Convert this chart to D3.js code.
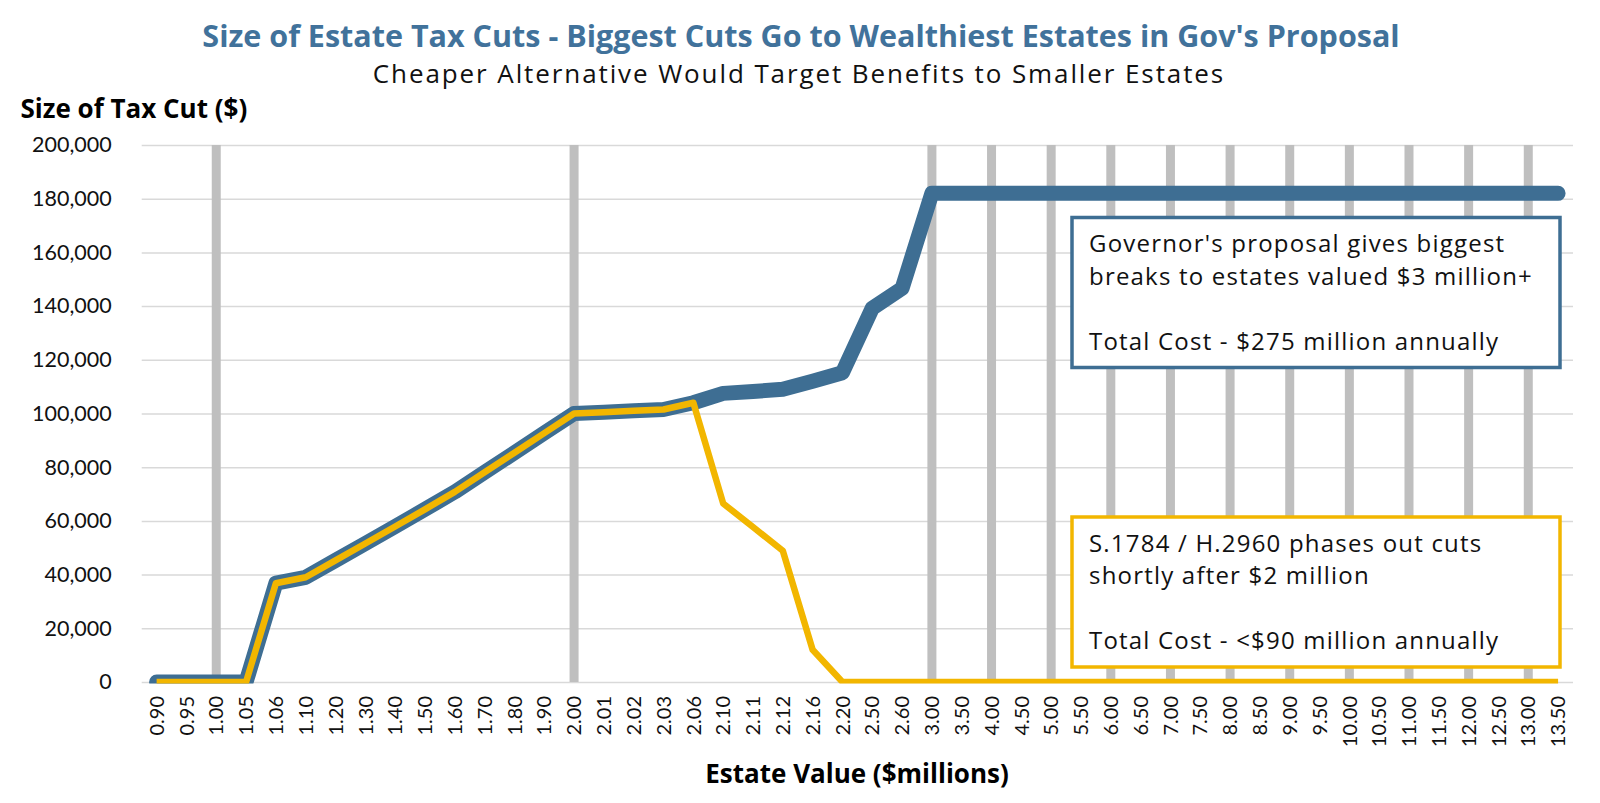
<!DOCTYPE html>
<html>
<head>
<meta charset="utf-8">
<script src="https://cdn.jsdelivr.net/npm/d3@7"></script>
<style>
  body { margin: 0; background: #fff; }
  svg { display: block; }
</style>
</head>
<body>
<div id="canvas"></div>
<script>
// estate values ($ millions) along the x axis
var estateValues = ['0.90', '0.95', '1.00', '1.05', '1.06', '1.10', '1.20', '1.30', '1.40', '1.50',
    '1.60', '1.70', '1.80', '1.90', '2.00', '2.01', '2.02', '2.03', '2.06', '2.10',
    '2.11', '2.12', '2.16', '2.20', '2.50', '2.60', '3.00', '3.50', '4.00', '4.50',
    '5.00', '5.50', '6.00', '6.50', '7.00', '7.50', '8.00', '8.50', '9.00', '9.50',
    '10.00', '10.50', '11.00', '11.50', '12.00', '12.50', '13.00', '13.50'];

// Governor's proposal - size of tax cut ($)
var govCut = [0, 0, 0, 0, 36800, 39000, 45300, 51600, 57900, 64300,
    70800, 78100, 85400, 92700, 100000, 100500, 101000, 101500, 104000, 107500,
    108200, 109000, 112000, 115200, 139200, 146600, 182000, 182000, 182000, 182000,
    182000, 182000, 182000, 182000, 182000, 182000, 182000, 182000, 182000, 182000,
    182000, 182000, 182000, 182000, 182000, 182000, 182000, 182000];

// S.1784 / H.2960 - size of tax cut ($)
var altCut = [0, 0, 0, 0, 36800, 39000, 45300, 51600, 57900, 64300,
    70800, 78100, 85400, 92700, 100000, 100500, 101000, 101500, 104000, 66500,
    57700, 48900, 12000, 0, 0, 0, 0, 0, 0, 0,
    0, 0, 0, 0, 0, 0, 0, 0, 0, 0,
    0, 0, 0, 0, 0, 0, 0, 0];

// grey marker columns at each whole million
var millionMarks = ['1.00', '2.00', '3.00', '4.00', '5.00', '6.00', '7.00',
    '8.00', '9.00', '10.00', '11.00', '12.00', '13.00'];
var markHeight = 200000;

var yTicks = [0, 20000, 40000, 60000, 80000, 100000, 120000, 140000, 160000, 180000, 200000];

var govNote = ["Governor's proposal gives biggest", 'breaks to estates valued $3 million+', '', 'Total Cost - $275 million annually'];
var altNote = ['S.1784 / H.2960 phases out cuts', 'shortly after $2 million', '', 'Total Cost - <$90 million annually'];

var W = 1600, H = 803;
var plotL = 141.7, plotR = 1573, plotT = 145, plotB = 682;
var BLUE = '#3e6e93', YELLOW = '#f2b600', GREY = '#bfbfbf', GRID = '#d9d9d9';
var calib = 'Lato, "Open Sans", sans-serif';
var wide = '"Open Sans", Lato, sans-serif';

var svg = d3.select('#canvas').append('svg')
    .attr('width', W)
    .attr('height', H);

var x = d3.scaleBand().domain(estateValues).range([plotL, plotR]).padding(0);
var y = d3.scaleLinear().domain([0, 200000]).range([plotB, plotT]);
var cx = function (d) { return x(d) + x.bandwidth() / 2; };

// titles
svg.append('text')
    .attr('x', 801).attr('y', 46.5)
    .attr('text-anchor', 'middle')
    .style('font-family', wide).style('font-weight', 700).style('font-size', '30.5px')
    .style('fill', '#41729b')
    .text("Size of Estate Tax Cuts - Biggest Cuts Go to Wealthiest Estates in Gov's Proposal");

svg.append('text')
    .attr('x', 799).attr('y', 83)
    .attr('text-anchor', 'middle')
    .style('font-family', wide).style('font-size', '26px').style('letter-spacing', '1.9px')
    .style('fill', '#111')
    .text('Cheaper Alternative Would Target Benefits to Smaller Estates');

svg.append('text')
    .attr('x', 20.5).attr('y', 118)
    .style('font-family', wide).style('font-weight', 700).style('font-size', '26px')
    .text('Size of Tax Cut ($)');

// gridlines + y labels
var yAxis = svg.append('g')
    .attr('transform', 'translate(' + plotL + ',0)')
    .call(d3.axisLeft(y).tickValues(yTicks).tickSize(-(plotR - plotL)).tickPadding(30)
        .tickFormat(d3.format(',')));
yAxis.select('.domain').remove();
yAxis.selectAll('line').attr('stroke', GRID).attr('stroke-width', 1.5);
yAxis.selectAll('text')
    .style('font-family', calib).style('font-size', '21.5px').style('fill', '#111');

// x labels, rotated
var xAxis = svg.append('g')
    .attr('transform', 'translate(0,' + plotB + ')')
    .call(d3.axisBottom(x).tickSize(0).tickPadding(0));
xAxis.select('.domain').remove();
xAxis.selectAll('text')
    .attr('transform', 'translate(0,14) rotate(-90)')
    .attr('x', 0).attr('y', 0).attr('dy', '0.36em')
    .attr('text-anchor', 'end')
    .style('font-family', calib).style('font-size', '20px').style('fill', '#111');

svg.append('text')
    .attr('x', 857).attr('y', 783)
    .attr('text-anchor', 'middle')
    .style('font-family', wide).style('font-weight', 700).style('font-size', '26px')
    .text('Estate Value ($millions)');

// grey columns
var barW = 9;
svg.append('g').selectAll('rect')
    .data(millionMarks)
    .enter().append('rect')
    .attr('x', function (d) { return cx(d) - barW / 2; })
    .attr('y', y(markHeight))
    .attr('width', barW)
    .attr('height', y(0) - y(markHeight))
    .attr('fill', GREY);

// lines get clipped at the floor of the plot
svg.append('defs').append('clipPath').attr('id', 'plotClip')
    .append('rect').attr('x', 0).attr('y', 0).attr('width', W).attr('height', plotB + 1.5);

var line = d3.line()
    .x(function (d, i) { return cx(estateValues[i]); })
    .y(function (d) { return y(d); });

var lines = svg.append('g').attr('clip-path', 'url(#plotClip)');
lines.append('path')
    .attr('d', line(govCut))
    .attr('fill', 'none')
    .attr('stroke', BLUE)
    .attr('stroke-width', 15)
    .attr('stroke-linejoin', 'round')
    .attr('stroke-linecap', 'round');
lines.append('path')
    .attr('d', line(altCut))
    .attr('fill', 'none')
    .attr('stroke', YELLOW)
    .attr('stroke-width', 6.5)
    .attr('stroke-linejoin', 'round')
    .attr('stroke-linecap', 'butt');

// annotation boxes
function noteBox(boxTop, rows, color) {
    var g = svg.append('g');
    g.append('rect')
        .attr('x', 1072).attr('y', boxTop)
        .attr('width', 488).attr('height', 150)
        .attr('fill', '#fff')
        .attr('stroke', color)
        .attr('stroke-width', 3.5);
    g.selectAll('text')
        .data(rows)
        .enter().append('text')
        .attr('x', 1089)
        .attr('y', function (d, i) { return boxTop + 34.5 + i * 32.5; })
        .style('font-family', wide).style('font-size', '24px').style('letter-spacing', '1.2px')
        .style('fill', '#111')
        .text(function (d) { return d; });
}
noteBox(217.5, govNote, BLUE);
noteBox(517, altNote, YELLOW);
</script>
</body>
</html>
